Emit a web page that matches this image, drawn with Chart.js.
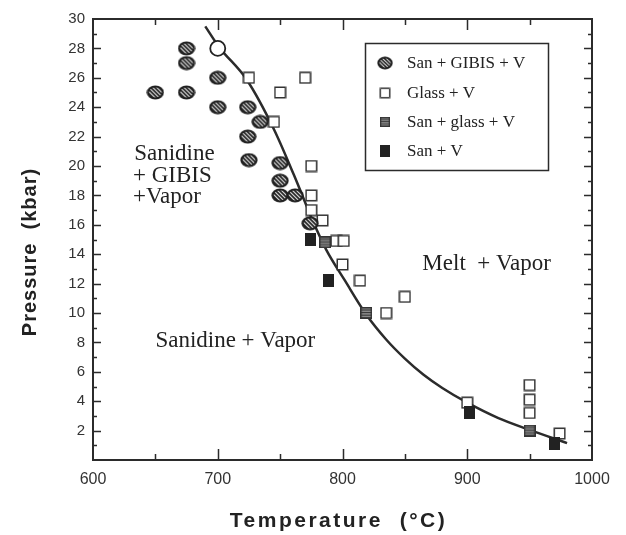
<!DOCTYPE html>
<html>
<head>
<meta charset="utf-8">
<script src="https://cdn.jsdelivr.net/npm/chart.js@4/dist/chart.umd.min.js"></script>
<style>
  html, body { margin: 0; padding: 0; background: #fff; }
</style>
</head>
<body>
<canvas id="chart" width="626" height="535"></canvas>
<script>
// data: temperature in °C, pressure in kbar
const sanGibisT = [650, 675, 675, 675, 700, 700, 724, 734, 724, 725, 750, 750, 750, 762, 774];
const sanGibisP = [25, 28, 27, 25, 26, 24, 24, 23, 22, 20.4, 20.2, 19, 18, 18, 16.1];

const glassT = [725, 750, 745, 770, 775, 775, 775, 784, 795, 801, 800, 814, 850, 835, 900, 950, 950, 950, 974];
const glassP = [26, 25, 23, 26, 20, 18, 17, 16.3, 14.9, 14.9, 13.3, 12.2, 11.1, 10, 3.9, 5.1, 4.1, 3.2, 1.8];

const sanGlassT = [786, 819, 950];
const sanGlassP = [14.8, 10, 2];

const sanT = [774, 789, 902, 970];
const sanP = [15, 12.2, 3.2, 1.1];

const openCircleT = [700];
const openCircleP = [28];

const curveT = [690, 701, 723, 745, 761, 777, 787, 802, 819, 835, 850, 865, 880, 900, 925, 950, 980];
const curveP = [29.5, 28.1, 25.9, 22.5, 19.4, 16.1, 14.3, 12.2, 9.9, 8.2, 6.9, 5.8, 4.9, 3.9, 2.85, 2.05, 1.15];

const tempTicks = [600, 700, 800, 900, 1000];
const pressTicks = [2, 4, 6, 8, 10, 12, 14, 16, 18, 20, 22, 24, 26, 28, 30];

const seriesNames = ['San + GIBIS + V', 'Glass + V', 'San + glass + V', 'San + V'];

const SERIF = '"Liberation Serif", "DejaVu Serif", serif';
const SANS = '"Liberation Sans", Arial, sans-serif';
const INK = '#2b2b2b';

function pairs(xs, ys) {
    return xs.map((x, i) => ({ x, y: ys[i] }));
}

// marker images
function hatchedCircle() {
    const c = document.createElement('canvas');
    c.width = 18; c.height = 15;
    const g = c.getContext('2d');
    g.beginPath();
    g.ellipse(9, 7.5, 8.6, 7, 0, 0, Math.PI * 2);
    g.fillStyle = '#1f1f1f';
    g.fill();
    g.save();
    g.beginPath();
    g.ellipse(9, 7.5, 6.4, 5.0, 0, 0, Math.PI * 2);
    g.clip();
    g.strokeStyle = '#f4f4f4';
    g.lineWidth = 1.05;
    for (let k = -16; k < 20; k += 4) {
        g.beginPath();
        g.moveTo(k, 0);
        g.lineTo(k + 15, 15);
        g.stroke();
    }
    g.restore();
    return c;
}

function openSquare() {
    const c = document.createElement('canvas');
    c.width = 13; c.height = 13;
    const g = c.getContext('2d');
    g.fillStyle = '#fff';
    g.fillRect(1, 1, 11, 11);
    g.strokeStyle = '#333';
    g.lineWidth = 1.5;
    g.strokeRect(1.25, 1.25, 10.5, 10.5);
    return c;
}

function stripedSquare() {
    const c = document.createElement('canvas');
    c.width = 12; c.height = 12;
    const g = c.getContext('2d');
    g.fillStyle = '#8a8a8a';
    g.fillRect(0, 0, 12, 12);
    g.strokeStyle = '#333';
    g.lineWidth = 1;
    for (let k = 3; k < 12; k += 2.6) {
        g.beginPath();
        g.moveTo(0, k);
        g.lineTo(12, k);
        g.stroke();
    }
    g.lineWidth = 1.5;
    g.strokeRect(0.75, 0.75, 10.5, 10.5);
    return c;
}

function filledSquare() {
    const c = document.createElement('canvas');
    c.width = 11; c.height = 13;
    const g = c.getContext('2d');
    g.fillStyle = '#222';
    g.fillRect(0, 0, 11, 13);
    return c;
}

const markers = [hatchedCircle(), openSquare(), stripedSquare(), filledSquare()];

const decorations = {
    id: 'decorations',
    beforeDatasetsDraw(chart) {
        const { ctx, chartArea: a } = chart;
        ctx.save();
        ctx.strokeStyle = INK;
        ctx.lineWidth = 1.5;
        ctx.beginPath();
        const x = chart.scales.x, y = chart.scales.y;
        for (let v = 1; v < 30; v++) {
            const py = Math.round(y.getPixelForValue(v)) + 0.5;
            const len = v % 2 === 0 ? 8 : 4;
            ctx.moveTo(a.left, py); ctx.lineTo(a.left + len, py);
            ctx.moveTo(a.right, py); ctx.lineTo(a.right - len, py);
        }
        for (let v = 650; v < 1000; v += 50) {
            const px = Math.round(x.getPixelForValue(v)) + 0.5;
            const len = v % 100 === 0 ? 11 : 6;
            ctx.moveTo(px, a.bottom); ctx.lineTo(px, a.bottom - len);
            ctx.moveTo(px, a.top); ctx.lineTo(px, a.top + len);
        }
        ctx.stroke();
        ctx.lineWidth = 2;
        ctx.strokeRect(a.left, a.top, a.right - a.left, a.bottom - a.top);

        // region labels
        ctx.fillStyle = '#222';
        ctx.font = '23px ' + SERIF;
        ctx.textBaseline = 'alphabetic';
        ctx.textAlign = 'left';
        const at = (t, p) => [x.getPixelForValue(t), y.getPixelForValue(p)];
        ctx.fillText('Sanidine', ...at(633, 20.4));
        ctx.fillText('+ GIBIS', ...at(632, 18.9));
        ctx.fillText('+Vapor', ...at(632, 17.5));
        ctx.fillText('Sanidine + Vapor', ...at(650, 7.7));
        ctx.fillText('Melt  + Vapor', ...at(864, 12.9));

        // axis titles
        ctx.font = 'bold 21px ' + SANS;
        ctx.textAlign = 'center';
        ctx.textBaseline = 'middle';
        ctx.letterSpacing = '2.5px';
        ctx.fillText('Temperature  (°C)', (a.left + a.right) / 2 - 4, 521);
        ctx.letterSpacing = '1px';
        ctx.font = 'bold 20px ' + SANS;
        ctx.translate(30, 252);
        ctx.rotate(-Math.PI / 2);
        ctx.fillText('Pressure  (kbar)', 0, 0);
        ctx.restore();
    },
    afterDraw(chart) {
        const { ctx } = chart;
        ctx.save();
        ctx.strokeStyle = INK;
        ctx.lineWidth = 1.5;
        ctx.strokeRect(365.5, 43.5, 183, 127);
        ctx.fillStyle = '#222';
        ctx.font = '17px ' + SERIF;
        ctx.textBaseline = 'middle';
        const rows = [63, 93, 122, 151];
        seriesNames.forEach((name, i) => {
            const m = markers[i];
            const s = i === 0 ? 0.9 : 0.85;
            ctx.drawImage(m, 385 - m.width * s / 2, rows[i] - m.height * s / 2, m.width * s, m.height * s);
            ctx.fillText(name, 407, rows[i] + 1);
        });
        ctx.restore();
    }
};

new Chart(document.getElementById('chart'), {
    type: 'scatter',
    data: {
        datasets: [
            {
                label: seriesNames[0],
                data: pairs(sanGibisT, sanGibisP),
                pointStyle: markers[0],
                order: 1,
            },
            {
                label: seriesNames[1],
                data: pairs(glassT, glassP),
                pointStyle: markers[1],
                order: 2,
            },
            {
                label: seriesNames[2],
                data: pairs(sanGlassT, sanGlassP),
                pointStyle: markers[2],
                order: 1,
            },
            {
                label: seriesNames[3],
                data: pairs(sanT, sanP),
                pointStyle: markers[3],
                order: 1,
            },
            {
                label: 'open',
                data: pairs(openCircleT, openCircleP),
                pointStyle: 'circle',
                pointRadius: 7.5,
                backgroundColor: '#fff',
                borderColor: '#222',
                borderWidth: 1.8,
                order: 0,
            },
            {
                label: 'solidus',
                type: 'line',
                data: pairs(curveT, curveP),
                borderColor: INK,
                borderWidth: 2.5,
                pointRadius: 0,
                cubicInterpolationMode: 'monotone',
                fill: false,
                order: 5,
            },
        ],
    },
    options: {
        responsive: false,
        devicePixelRatio: 1,
        animation: false,
        layout: {
            padding: { top: 19, right: 34, left: 0, bottom: 0 },
        },
        scales: {
            x: {
                type: 'linear',
                min: 600,
                max: 1000,
                afterBuildTicks: (scale) => {
                    scale.ticks = tempTicks.map((value) => ({ value }));
                },
                afterFit: (scale) => {
                    scale.height = 75;
                },
                ticks: {
                    color: '#333',
                    font: { family: SANS, size: 16 },
                    padding: 10,
                    maxRotation: 0,
                    callback: (value) => String(value),
                },
                grid: { display: false, drawTicks: false },
                border: { display: false },
            },
            y: {
                min: 0,
                max: 30,
                afterBuildTicks: (scale) => {
                    scale.ticks = pressTicks.map((value) => ({ value }));
                },
                afterFit: (scale) => {
                    scale.width = 93;
                },
                ticks: {
                    color: '#333',
                    font: { family: SANS, size: 15 },
                    padding: 8,
                },
                grid: { display: false, drawTicks: false },
                border: { display: false },
            },
        },
        plugins: {
            legend: { display: false },
            tooltip: { enabled: false },
        },
    },
    plugins: [decorations],
});
</script>
</body>
</html>
